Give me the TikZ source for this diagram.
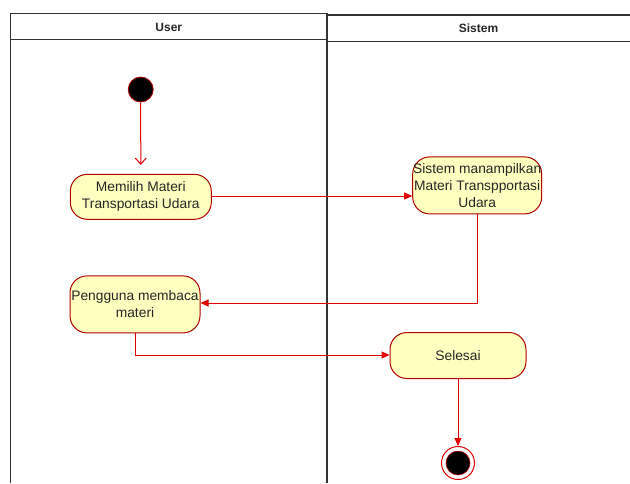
\documentclass[tikz,border=0pt]{standalone}
\usepackage{fontspec}
\setmainfont{Liberation Sans}
\usetikzlibrary{arrows.meta}
\definecolor{actfill}{HTML}{FFFFC0}
\definecolor{actline}{HTML}{B20000}
\definecolor{flow}{HTML}{E00000}
\definecolor{lane}{HTML}{333333}
\tikzset{
  activity/.style={draw=actline, line width=1pt, fill=actfill, rounded corners=17pt,
    align=center, inner sep=0pt, text=black!85,
    font=\fontsize{13.8}{17}\selectfont},
  lanehead/.style={font=\fontsize{12}{14}\selectfont\bfseries, text=black!85},
  laneline/.style={draw=lane, line width=1.4pt},
  flowline/.style={draw=flow, line width=1pt, -{Triangle[length=8pt,width=7pt]}},
  openflow/.style={draw=flow, line width=1pt, -{Straight Barb[length=6pt,width=11pt]}},
}
\begin{document}
\begin{tikzpicture}[x=1pt,y=-1pt]
\useasboundingbox (0,0) rectangle (630,483);
% swimlanes
\draw[laneline] (10.7,483) -- (10.7,13.7) -- (327,13.7) -- (327,483);
\draw[laneline] (10.7,39.3) -- (327,39.3);
\draw[laneline] (327,15) -- (630,15);
\draw[laneline] (327,41.7) -- (630,41.7);
\node[lanehead] (huser) at (168.8,27) {User};
\node[lanehead] (hsys) at (478.5,28.5) {Sistem};
% start and end
\node[circle, fill=black, draw=actline, line width=0.8pt, minimum size=25pt, inner sep=0pt] (start) at (140.7,89.5) {};
\node[circle, draw=flow, line width=1pt, fill=white, minimum size=33pt, inner sep=0pt] (stop) at (458,463) {};
\node[circle, fill=black, draw=actline, line width=0.6pt, minimum size=24pt, inner sep=0pt] (stopin) at (stop) {};
% activities
\node[activity, minimum width=141pt, minimum height=45pt] (pilih) at (140.8,196.8) {Memilih Materi\\Transportasi Udara};
\node[activity, minimum width=129pt, minimum height=57pt] (tampil) at (477.2,185.4) {Sistem manampilkan\\Materi Transpportasi\\Udara};
\node[activity, minimum width=130pt, minimum height=57pt] (baca) at (135,304.4) {Pengguna membaca\\materi};
\node[activity, minimum width=136pt, minimum height=46pt] (selesai) at (458,355.5) {Selesai};
% flows
\draw[openflow, shorten >=9pt] (start) -- (pilih);
\draw[flowline] (pilih.east |- 0,196) -- (tampil.west |- 0,196);
\draw[flowline] (tampil.south) -- (477.2,303) -- (baca.east |- 0,303);
\draw[flowline] (baca.south) -- (135,355) -- (selesai.west |- 0,355);
\draw[flowline] (selesai.south) -- (stop.north);
\end{tikzpicture}
\end{document}
